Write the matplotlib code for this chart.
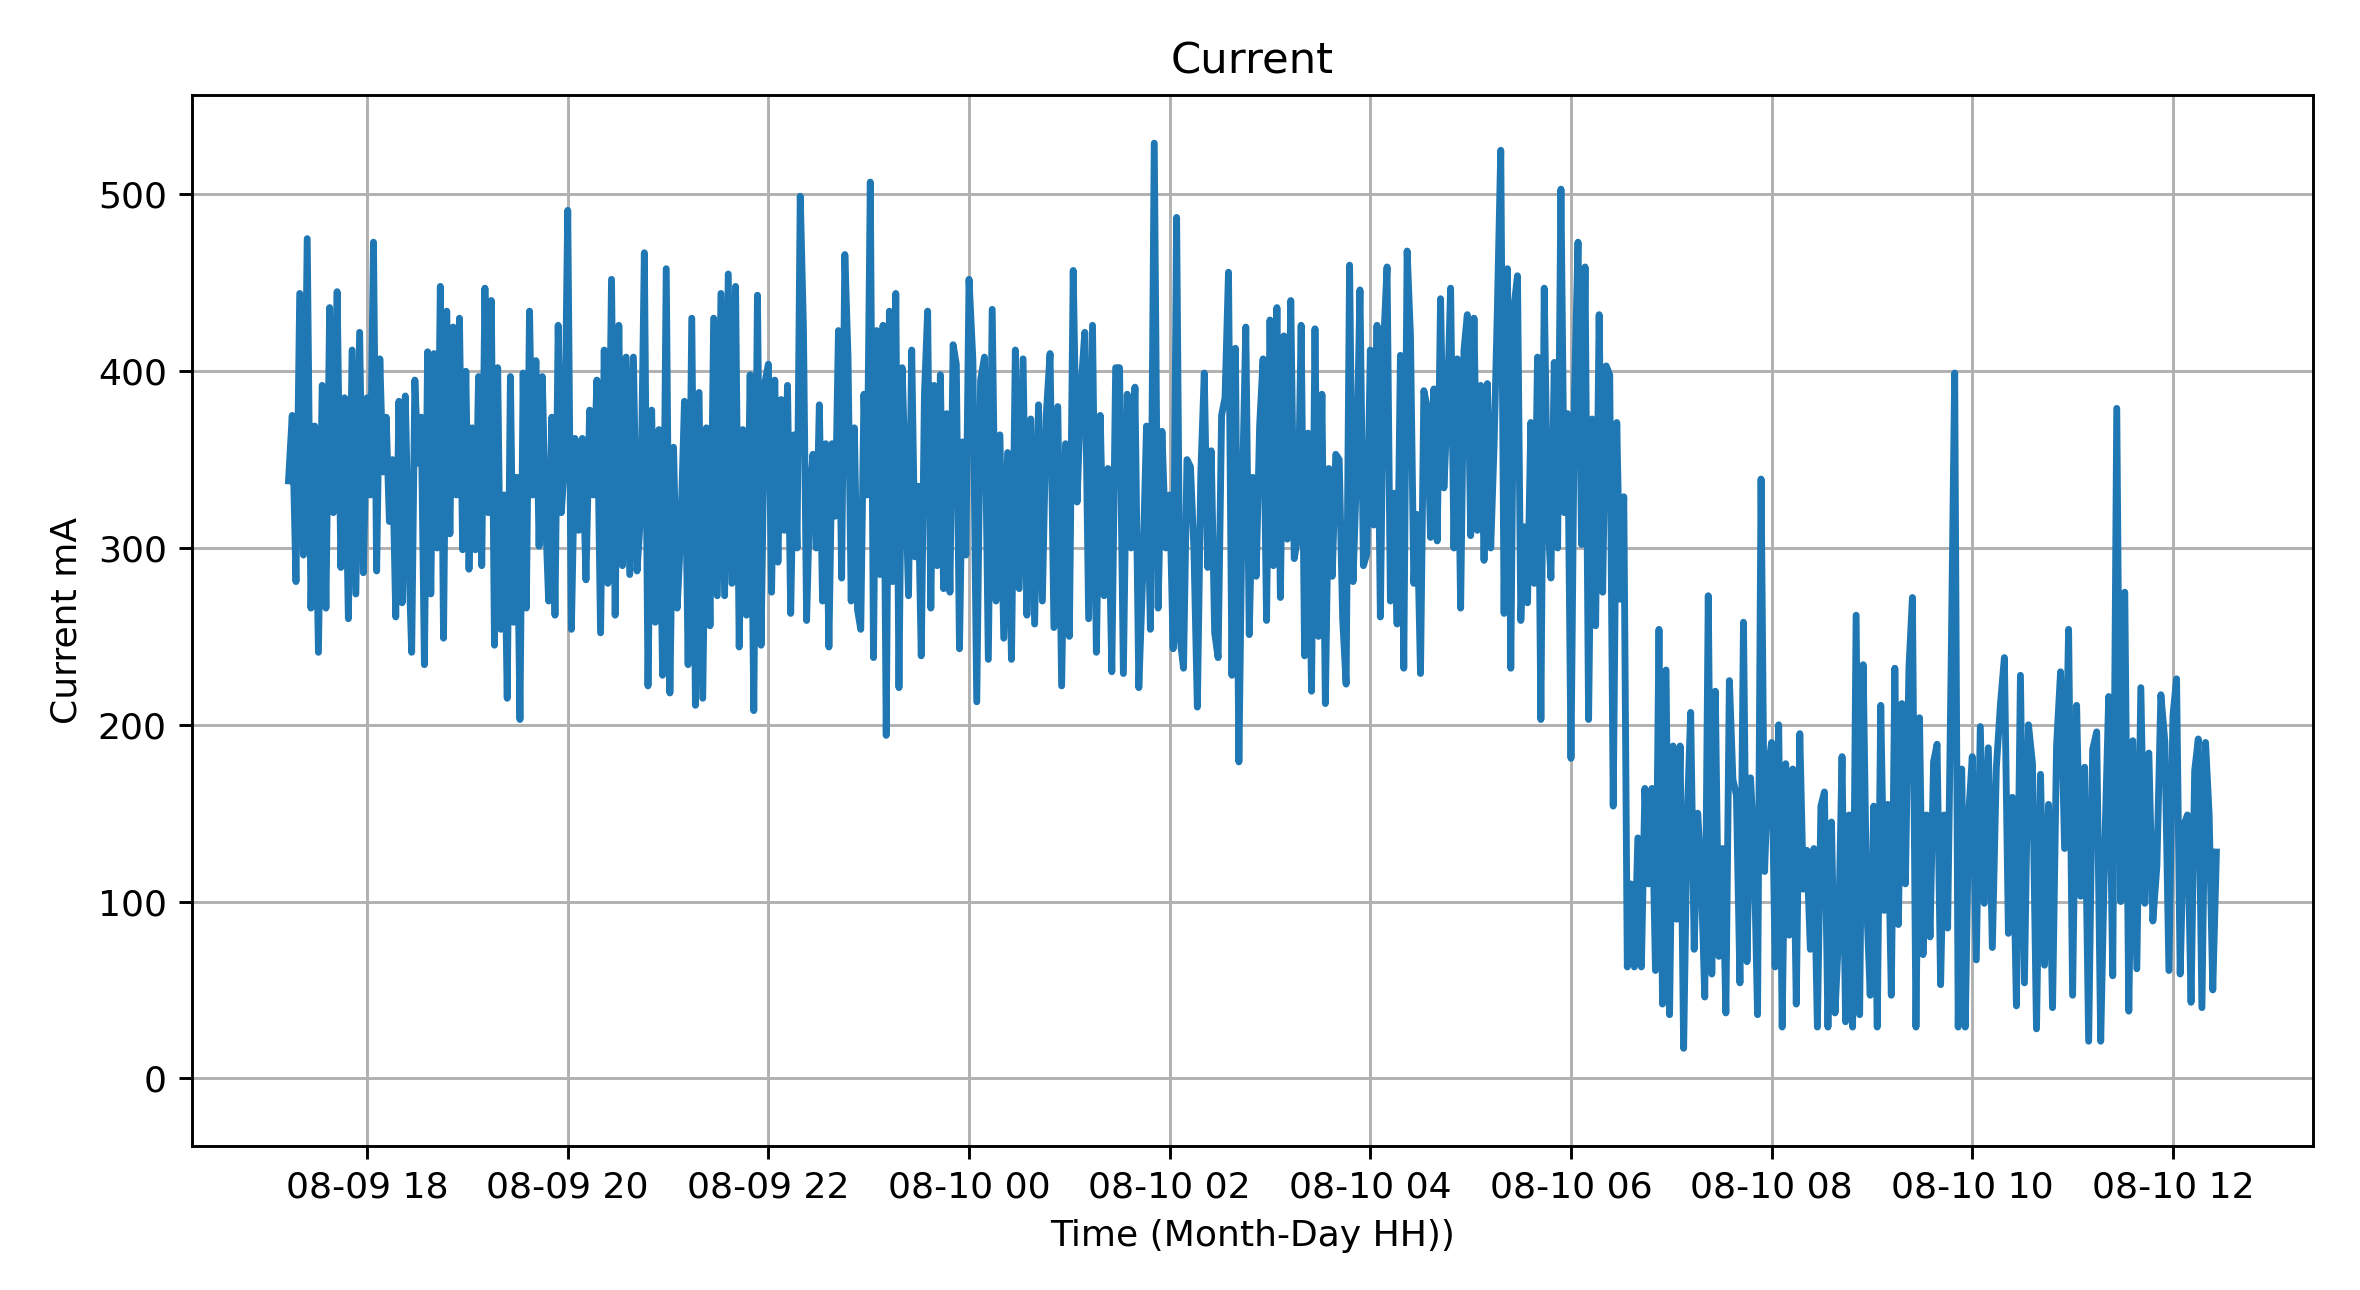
import matplotlib
matplotlib.use("Agg")
import matplotlib.pyplot as plt
import matplotlib.dates as mdates
import pandas as pd

# current readings (mA), one list per 2-hour block
day1 = "2023-08-09"
day2 = "2023-08-10"

cur_1713 = [338, 375, 281, 444, 296, 475, 266, 369, 241, 392, 266, 436, 320, 445, 289, 385,
            260, 412, 274, 422, 286]
cur_18 = [385, 330, 473, 287, 407, 343, 374, 315, 350, 261, 383, 269, 386, 300, 241, 395,
          348, 374, 234, 411, 274, 410, 300, 448, 249, 434, 308, 425, 330, 430, 299, 400,
          288, 368, 299, 397, 290, 447, 320, 440, 245, 402, 254, 330, 215, 397, 258, 340,
          203, 399, 266, 434, 330, 406, 301, 397, 320, 270, 374, 262, 426, 320, 350]
cur_20 = [491, 254, 362, 310, 362, 282, 378, 330, 395, 252, 412, 280, 452, 262, 426, 290,
          408, 285, 408, 287, 320, 467, 222, 378, 258, 367, 228, 458, 218, 357, 266, 310,
          383, 234, 430, 211, 388, 215, 368, 256, 430, 273, 444, 273, 455, 280, 448, 244,
          367, 262, 398, 208, 443, 245, 393]
cur_22 = [404, 275, 395, 292, 384, 310, 392, 263, 364, 300, 499, 425, 259, 330, 353, 300,
          381, 270, 359, 244, 359, 318, 423, 283, 466, 408, 270, 368, 265, 254, 387, 330,
          507, 238, 423, 285, 426, 194, 434, 281, 444, 221, 402, 340, 273, 412, 295, 335,
          239, 387, 434, 266, 392, 290, 398, 277, 376, 275, 415, 404, 243, 360, 296]
cur_00 = [452, 406, 213, 395, 408, 237, 435, 270, 364, 249, 354, 237, 412, 277, 407, 262,
          373, 257, 381, 270, 375, 410, 255, 380, 222, 359, 250, 457, 326, 390, 422, 260,
          426, 241, 375, 273, 345, 230, 402,
          402, 229, 387, 300, 391, 221, 284, 369, 254, 529, 266, 366, 300]
cur_02 = [330, 243, 487, 249, 232, 350, 346, 300, 210, 342, 399, 289, 355, 252, 238, 375,
          385, 456, 228, 413, 179, 331, 425, 251, 340, 284, 369, 407, 259, 429, 290, 436,
          272, 420, 305, 440, 294, 306, 426, 239, 365, 219, 424, 250, 387, 212, 345, 284,
          353, 350, 260, 223, 460, 281, 342, 446, 290, 297]
cur_04 = [412, 313, 426, 261, 417, 459, 270, 331, 257, 409, 232, 468, 420, 280, 319, 229,
          389, 380, 306, 390, 304, 441, 334, 378, 447, 300, 407, 266, 412,
          432, 307, 430, 310, 392, 293, 393, 300, 358, 436, 525, 263, 458, 232, 437, 454,
          259, 312, 269, 371, 280, 408, 203, 447, 320, 283, 405, 300, 503, 320, 376]
cur_06 = [181, 388, 473, 302, 459, 203, 373, 256, 432, 275, 403, 398, 154, 371, 271, 329,
          63, 110, 63, 136, 63, 164, 110, 164, 61, 254, 42, 231, 36, 188, 90, 188,
          17, 146, 207, 73, 150, 115, 46, 273, 59, 219, 69, 130, 37, 225, 169, 160,
          54, 258, 66, 170, 130, 36, 339, 117, 175]
cur_08 = [190, 63, 200, 29, 178, 81, 175, 42, 195, 107, 129, 73, 130, 29, 154,
          162, 29, 145, 37, 80, 182, 32, 149, 29, 262, 36, 234, 99, 47, 154, 29,
          211, 95, 155, 47, 232, 87, 212, 110, 232, 272, 29, 204, 70, 149, 80, 179,
          189, 53, 149, 85, 234, 399, 29, 175, 29, 150]
cur_10 = [182, 67, 199, 99, 187, 74, 176, 211, 238, 82, 159, 41, 228, 54, 200, 178,
          28, 172, 64, 155, 40, 188, 230, 130, 254, 47, 211, 103, 176, 21, 186, 196,
          21, 130, 216, 58, 379, 100, 275, 38, 191, 62, 221, 99, 184, 89, 120, 217,
          190, 61]
cur_12 = [205, 226, 59, 143, 149, 43, 174, 192, 40, 190, 149, 50, 128]

blocks = [
    (day1 + " 17:13", day1 + " 18:00", cur_1713),
    (day1 + " 18:00", day1 + " 20:00", cur_18),
    (day1 + " 20:00", day1 + " 22:00", cur_20),
    (day1 + " 22:00", day2 + " 00:00", cur_22),
    (day2 + " 00:00", day2 + " 02:00", cur_00),
    (day2 + " 02:00", day2 + " 04:00", cur_02),
    (day2 + " 04:00", day2 + " 06:00", cur_04),
    (day2 + " 06:00", day2 + " 08:00", cur_06),
    (day2 + " 08:00", day2 + " 10:00", cur_08),
    (day2 + " 10:00", day2 + " 12:00", cur_10),
    (day2 + " 12:00", day2 + " 12:26", cur_12),
]

times = []
values = []
for i, (start, end, vals) in enumerate(blocks):
    last = (i == len(blocks) - 1)
    t = pd.date_range(start, end, periods=len(vals) + (0 if last else 1))
    if not last:
        t = t[:-1]
    times.extend(t)
    values.extend(vals)

df = pd.DataFrame({"time": times, "current": values})

fig = plt.figure(figsize=(2360 / 260, 1290 / 260), dpi=260)
ax = fig.add_axes([0.0814, 0.112, 0.8986, 0.814])
ax.plot(df["time"], df["current"], color="#1f77b4", lw=1.9)
ax.set_ylim(-38, 556)
ax.xaxis.set_major_locator(mdates.HourLocator(byhour=range(0, 24, 2)))
ax.xaxis.set_major_formatter(mdates.DateFormatter("%m-%d %H"))
ax.set_xlabel("Time (Month-Day HH))")
ax.set_ylabel("Current mA")
ax.set_title("Current")
ax.grid(True)
fig.savefig("out.png", dpi=260)
